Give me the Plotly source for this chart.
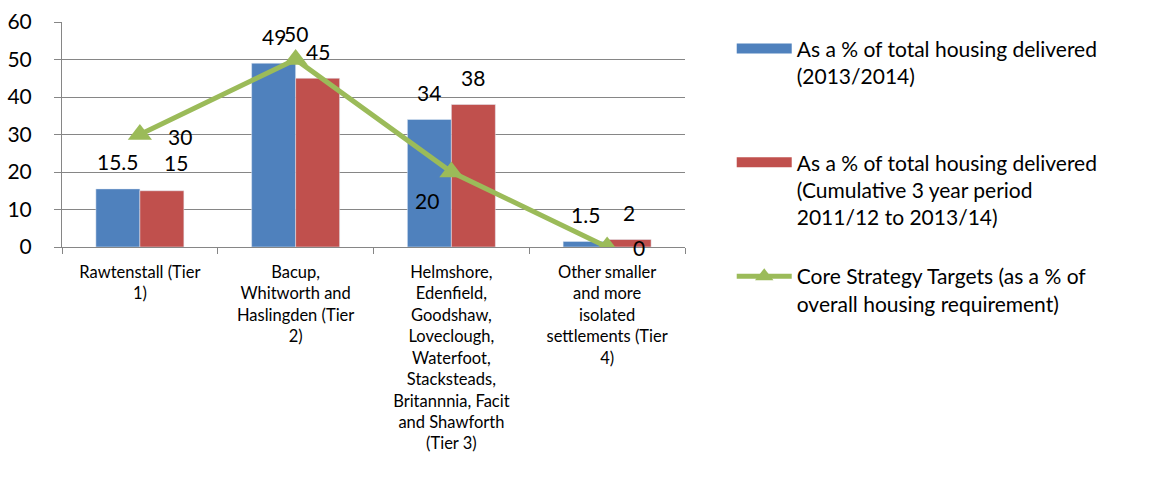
import plotly.graph_objects as go

categories = [
    "Rawtenstall (Tier<br>1)",
    "Bacup,<br>Whitworth and<br>Haslingden (Tier<br>2)",
    "Helmshore,<br>Edenfield,<br>Goodshaw,<br>Loveclough,<br>Waterfoot,<br>Stacksteads,<br>Britannnia, Facit<br>and Shawforth<br>(Tier 3)",
    "Other smaller<br>and more<br>isolated<br>settlements (Tier<br>4)",
]
series_names = [
    "As a % of total housing delivered<br>(2013/2014)<br> ",
    "As a % of total housing delivered<br>(Cumulative 3 year period<br>2011/12 to 2013/14)",
    "Core Strategy Targets (as a % of<br>overall housing requirement)",
]
delivered_2013_14 = [15.5, 49, 34, 1.5]
delivered_cumulative = [15, 45, 38, 2]
core_targets = [30, 50, 20, 0]

y_ticks = [0, 10, 20, 30, 40, 50, 60]

# label placement (pixel offsets, style only)
blue_shift = [(0, 27), (0, 27), (0, 27), (0, 27)]
red_shift = [(14, 28), (0, 27), (0, 27), (0, 27)]
line_shift = [(40, -2), (0, 26), (-24, -28), (32, 0)]

BLUE = "#4F81BD"
RED = "#C0504D"
GREEN = "#9BBB59"
GRID = "#868686"
FONT = "Lato"

fig = go.Figure()
fig.add_trace(go.Bar(x=categories, y=delivered_2013_14, name=series_names[0],
                     marker_color=BLUE, showlegend=False))
fig.add_trace(go.Bar(x=categories, y=delivered_cumulative, name=series_names[1],
                     marker_color=RED, showlegend=False))
fig.add_trace(go.Scatter(x=categories, y=core_targets, name=series_names[2],
                         mode="lines+markers",
                         line=dict(color=GREEN, width=5),
                         marker=dict(symbol="triangle-up", size=21, color=GREEN),
                         legendgroup="c", legendrank=3))
# legend keys for the bar series (wide filled rectangles, as in the original)
for nm, col, grp, rk in ((series_names[0], BLUE, "a", 1), (series_names[1], RED, "b", 2)):
    fig.add_trace(go.Scatter(x=[None], y=[None], name=nm, mode="lines",
                             line=dict(color=col, width=15), legendgroup=grp,
                             legendrank=rk, hoverinfo="skip"))

annotations = []
for i, c in enumerate(categories):
    for vals, shifts, dx in ((delivered_2013_14, blue_shift, -22),
                             (delivered_cumulative, red_shift, 22)):
        annotations.append(dict(x=c, y=vals[i], text=f"{vals[i]:g}", showarrow=False,
                                xshift=dx + shifts[i][0], yshift=shifts[i][1],
                                font=dict(family=FONT, size=21, color="black")))
    annotations.append(dict(x=c, y=core_targets[i], text=f"{core_targets[i]:g}",
                            showarrow=False, xshift=line_shift[i][0], yshift=line_shift[i][1],
                            font=dict(family=FONT, size=21, color="black")))

fig.update_layout(
    width=1159, height=494,
    margin=dict(l=62, r=474, t=22, b=247, autoexpand=False),
    paper_bgcolor="white", plot_bgcolor="white",
    barmode="group", bargap=0.435, bargroupgap=0,
    font=dict(family=FONT, color="black"),
    showlegend=True,
    legend=dict(x=1.075, y=0.972, xanchor="left", yanchor="top",
                font=dict(family=FONT, size=21, color="black"),
                valign="top", tracegroupgap=29, itemwidth=55,
                maxheight=480, traceorder="grouped",
                bgcolor="rgba(0,0,0,0)"),
    annotations=annotations,
)
fig.update_xaxes(showline=True, linecolor=GRID, linewidth=1,
                 ticks="outside", tickson="boundaries", ticklen=6, tickcolor=GRID,
                 tickfont=dict(family=FONT, size=16.5, color="black"),
                 showgrid=False, tickangle=0, ticklabelstandoff=10, automargin=False)
fig.update_yaxes(range=[0, 60], tickvals=y_ticks, showline=True, linecolor=GRID,
                 linewidth=1, ticks="outside", ticklen=7, tickcolor=GRID,
                 showgrid=True, gridcolor=GRID, gridwidth=1, zeroline=False,
                 tickfont=dict(family=FONT, size=21, color="black"),
                 ticklabelstandoff=18, automargin=False)

fig.write_html("out.html", config={"displayModeBar": False},
               post_script="document.body.style.margin='0';")
